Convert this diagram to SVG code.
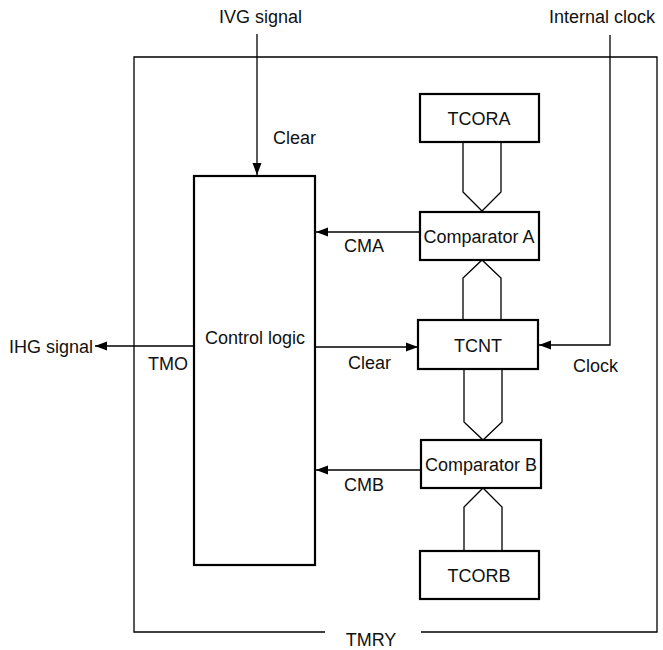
<svg xmlns="http://www.w3.org/2000/svg" width="663" height="650" viewBox="0 0 663 650">
<style>
text{font-family:"Liberation Sans",Arial,sans-serif;font-size:18px;fill:#111}
.box{fill:#fff;stroke:#000;stroke-width:2.2}
.ln{fill:none;stroke:#000;stroke-width:1.3}
.bus{fill:none;stroke:#000;stroke-width:1.3}
</style>
<defs>
<marker id="ah" markerWidth="12" markerHeight="10" refX="12" refY="5" orient="auto" markerUnits="userSpaceOnUse">
<path d="M0,0.5 L12,5 L0,9.5 Z" fill="#000"/>
</marker>
</defs>
<g id="frame">
<path class="ln" d="M325,632 H134 V57 H657 V632 H421"/>
<text x="371" y="646" text-anchor="middle">TMRY</text>
</g>
<g id="connectors">
<path class="ln" d="M257,34 V175" marker-end="url(#ah)"/>
<path class="ln" d="M610,35 V345 H539" marker-end="url(#ah)"/>
<path class="ln" d="M420,232 H316" marker-end="url(#ah)"/>
<path class="ln" d="M316,347 H418" marker-end="url(#ah)"/>
<path class="ln" d="M421,470 H316" marker-end="url(#ah)"/>
<path class="ln" d="M193,346 H95" marker-end="url(#ah)"/>
<path class="bus" d="M463,142 V192 L482,211 L501,192 V142"/>
<path class="bus" d="M463,320 V278 L482,260 L501,278 V320"/>
<path class="bus" d="M464,370 V422 L483,440 L502,422 V370"/>
<path class="bus" d="M464,551 V507 L483,488 L502,507 V551"/>
</g>
<g id="labels">
<text x="219" y="23">IVG signal</text>
<text x="273" y="144">Clear</text>
<text x="549" y="23">Internal clock</text>
<text x="573" y="372">Clock</text>
<text x="344" y="252">CMA</text>
<text x="348" y="369">Clear</text>
<text x="344" y="491">CMB</text>
<text x="9" y="353">IHG signal</text>
<text x="148" y="370">TMO</text>
</g>
<g id="control-logic">
<rect class="box" x="194" y="176" width="121" height="389"/>
<text x="255" y="344" text-anchor="middle">Control logic</text>
</g>
<g id="tcora">
<rect class="box" x="420" y="94" width="119" height="48"/>
<text x="479" y="125" text-anchor="middle">TCORA</text>
</g>
<g id="comparator-a">
<rect class="box" x="420" y="212" width="119" height="48"/>
<text x="479" y="243" text-anchor="middle">Comparator A</text>
</g>
<g id="tcnt">
<rect class="box" x="418" y="320" width="120" height="49"/>
<text x="478" y="352" text-anchor="middle">TCNT</text>
</g>
<g id="comparator-b">
<rect class="box" x="421" y="440" width="120" height="48"/>
<text x="481" y="471" text-anchor="middle">Comparator B</text>
</g>
<g id="tcorb">
<rect class="box" x="420" y="551" width="119" height="48"/>
<text x="479" y="582" text-anchor="middle">TCORB</text>
</g>
</svg>
